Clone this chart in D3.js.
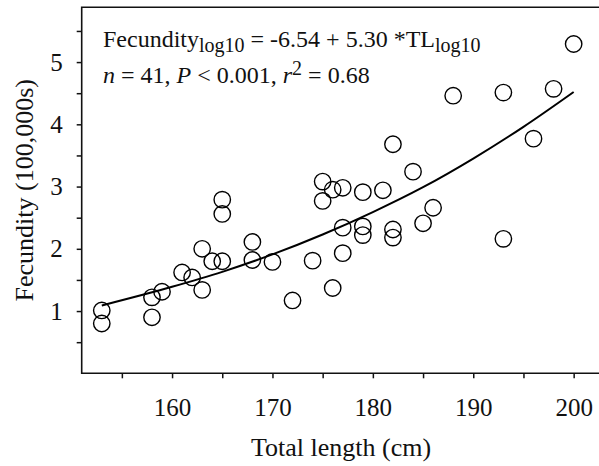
<!DOCTYPE html>
<html>
<head>
<meta charset="utf-8">
<script src="https://cdn.jsdelivr.net/npm/d3@7"></script>
<style>
  body { margin: 0; background: #fff; }
  svg { display: block; font-family: "Liberation Serif", "Times New Roman", serif; }
  .tick text { font-family: "Liberation Serif", "Times New Roman", serif; font-size: 25px; fill: #111; }
</style>
</head>
<body>
<div id="chart"></div>
<script>
// total length (cm) and fecundity (100,000s)
const lengths = [153, 153, 158, 158, 159, 161, 162, 163, 163, 164, 165, 165, 165, 168, 168, 170,
  172, 174, 175, 175, 176, 176, 177, 177, 177, 179, 179, 179, 181, 182, 182, 182, 184, 185, 186,
  188, 193, 193, 196, 198, 200];
const fecundity = [1.01, 0.80, 1.22, 0.90, 1.31, 1.62, 1.54, 1.34, 2.00, 1.80, 1.80, 2.56, 2.79, 2.11, 1.82, 1.79,
  1.17, 1.81, 3.08, 2.77, 1.37, 2.95, 1.93, 2.98, 2.34, 2.91, 2.36, 2.22, 2.94, 3.68, 2.31, 2.18, 3.24, 2.41, 2.66,
  4.46, 4.51, 2.16, 3.77, 4.57, 5.29];

// fitted curve
const fitLengths = [153, 160, 165, 170, 175, 180, 185, 190, 195, 200];
const fitValues = [1.09, 1.39, 1.63, 1.91, 2.23, 2.59, 2.99, 3.45, 3.96, 4.52];

const xTicks = [155, 160, 165, 170, 175, 180, 185, 190, 195, 200];
const yTicks = [0.5, 1, 1.5, 2, 2.5, 3, 3.5, 4, 4.5, 5, 5.5];

const W = 599, H = 466;
const plotLeft = 81.7, plotTop = 7.3, plotBottom = 373.3;

const svg = d3.select("#chart").append("svg")
  .attr("width", W).attr("height", H);

const x = d3.scaleLinear().domain([151, 203]).range([plotLeft, plotLeft + 52 * 10.04]);
const y = d3.scaleLinear().domain([0, 5.88]).range([plotBottom, plotTop]);

// axes
svg.append("g")
  .attr("transform", `translate(0,${plotBottom})`)
  .call(d3.axisBottom(x).tickValues(xTicks).tickSize(5).tickPadding(20)
    .tickFormat(d => d % 10 === 0 ? d : ""))
  .call(g => g.select(".domain").remove())
  .call(g => g.selectAll(".tick line").attr("stroke", "#111").attr("stroke-width", 1.5));

svg.append("g")
  .attr("transform", `translate(${plotLeft},0)`)
  .call(d3.axisLeft(y).tickValues(yTicks).tickSize(5).tickPadding(14)
    .tickFormat(d => Number.isInteger(d) ? d : ""))
  .call(g => g.select(".domain").remove())
  .call(g => g.selectAll(".tick line").attr("stroke", "#111").attr("stroke-width", 1.5));

// frame (right side is cut off in the original)
svg.append("path")
  .attr("d", `M${W},${plotTop}H${plotLeft}V${plotBottom}H${W}`)
  .attr("fill", "none").attr("stroke", "#111").attr("stroke-width", 1.6);

// fitted curve
const fit = fitLengths.map((d, i) => [d, fitValues[i]]);
svg.append("path")
  .datum(fit)
  .attr("fill", "none").attr("stroke", "#000").attr("stroke-width", 2)
  .attr("d", d3.line().x(d => x(d[0])).y(d => y(d[1])).curve(d3.curveMonotoneX));

// points
svg.append("g").selectAll("circle")
  .data(lengths.map((d, i) => [d, fecundity[i]]))
  .join("circle")
    .attr("cx", d => x(d[0]))
    .attr("cy", d => y(d[1]))
    .attr("r", 8.2)
    .attr("fill", "none")
    .attr("stroke", "#000")
    .attr("stroke-width", 1.4);

// axis titles
svg.append("text")
  .attr("x", 341).attr("y", 456)
  .attr("text-anchor", "middle")
  .attr("font-size", 26).attr("fill", "#111")
  .text("Total length (cm)");

svg.append("text")
  .attr("transform", `translate(33,${(plotTop + plotBottom) / 2}) rotate(-90)`)
  .attr("text-anchor", "middle")
  .attr("font-size", 26).attr("fill", "#111")
  .text("Fecundity (100,000s)");

// equation
const eq = svg.append("text")
  .attr("x", 103).attr("y", 47)
  .attr("font-size", 24).attr("fill", "#111");
eq.append("tspan").text("Fecundity");
eq.append("tspan").attr("font-size", 20).attr("dy", 5).text("log10");
eq.append("tspan").attr("dy", -5).text(" = -6.54 + 5.30 *TL");
eq.append("tspan").attr("font-size", 20).attr("dy", 5).text("log10");

const stats = svg.append("text")
  .attr("x", 103).attr("y", 83)
  .attr("font-size", 24).attr("fill", "#111");
stats.append("tspan").attr("font-style", "italic").text("n");
stats.append("tspan").text(" = 41, ");
stats.append("tspan").attr("font-style", "italic").text("P");
stats.append("tspan").text(" < 0.001, ");
stats.append("tspan").attr("font-style", "italic").text("r");
stats.append("tspan").attr("font-size", 20).attr("dy", -8).text("2");
stats.append("tspan").attr("dy", 8).text(" = 0.68");
</script>
</body>
</html>
